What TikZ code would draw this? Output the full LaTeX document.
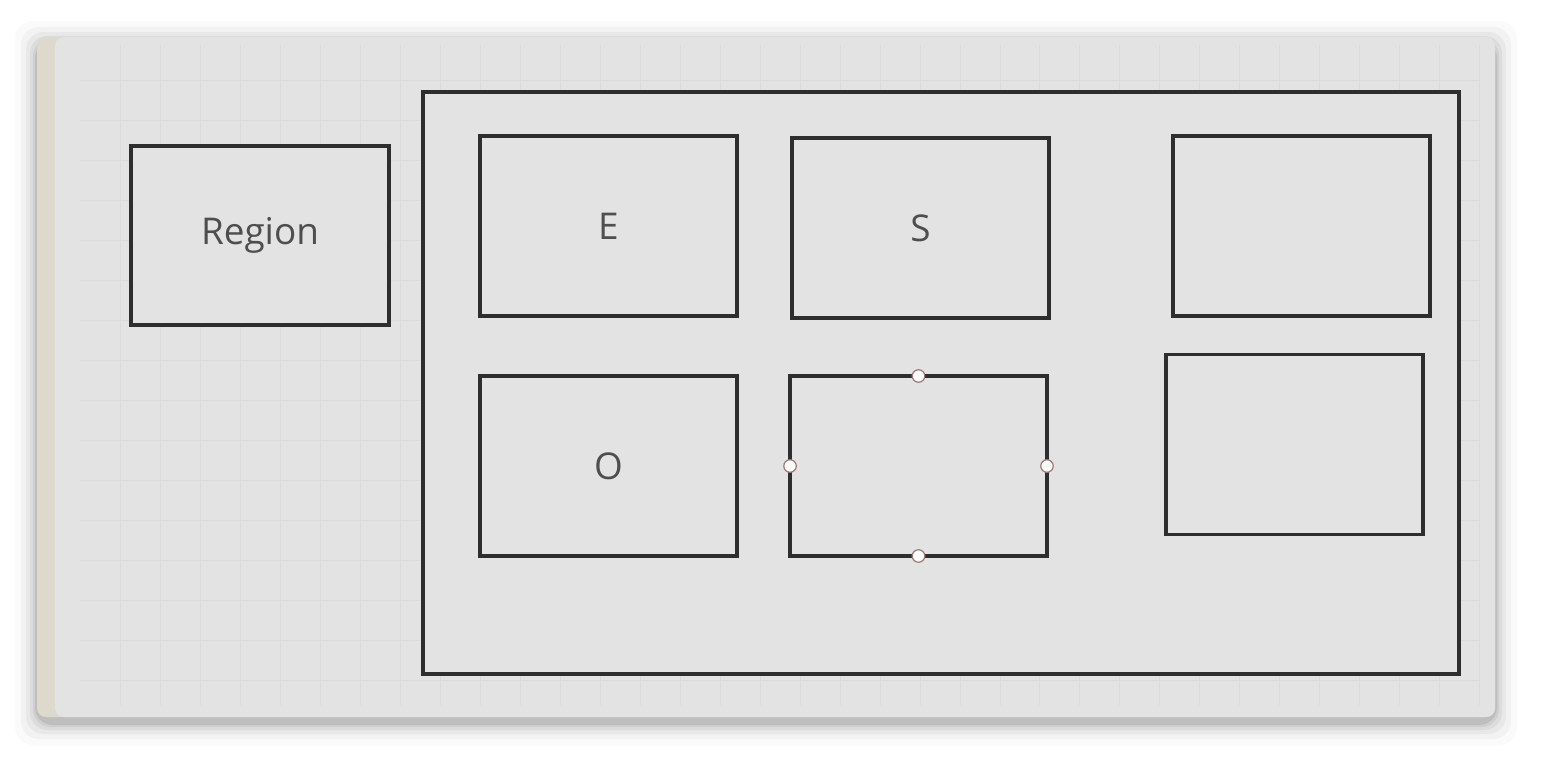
\documentclass[tikz,border=0pt]{standalone}
\usepackage{fontspec}
\setmainfont{Open Sans}
\usepackage{tikz}
\usetikzlibrary{positioning}

\definecolor{panelgray}{HTML}{E3E3E3}
\definecolor{gridgray}{HTML}{DBDBDB}
\definecolor{boxline}{HTML}{2E2E2E}
\definecolor{labelgray}{HTML}{4E4E4E}
\definecolor{edgebeige}{HTML}{DDD9CD}
\definecolor{handlered}{HTML}{A07878}

\tikzset{
  shapebox/.style={draw=boxline, line width=1.9pt, fill=panelgray,
    minimum width=5.14cm, minimum height=3.6cm, inner sep=0pt, outer sep=0pt,
    text=labelgray, font=\fontsize{21}{24}\selectfont},
  handle/.style={circle, draw=handlered, fill=white, line width=0.7pt,
    minimum size=0.25cm, inner sep=0pt}
}

\begin{document}
\begin{tikzpicture}[x=0.02cm, y=-0.02cm]
\useasboundingbox (0,0) rectangle (1546,760);

% --- Canvas with soft shadow ---
\fill[white] (0,0) rectangle (1546,760);
\foreach \s/\o in {22/2, 16/3, 11/4, 7/5, 4/6, 2/8}
  \fill[black, opacity=0.0\o, rounded corners=10pt]
    (37-\s,37-\s+6) rectangle (1495+\s,717+\s+6);
\fill[edgebeige, rounded corners=5pt] (37,37) rectangle (1495,717);
\fill[panelgray, rounded corners=5pt] (55,37) rectangle (1495,717);

% --- Faint grid ---
\draw[gridgray, line width=0.35pt, step=0.8cm] (80,45) grid (1480,705);

% --- Shapes ---
\node[shapebox, minimum width=5.16cm, minimum height=3.58cm] (region) at (260,235.5) {Region};
\node[shapebox, minimum width=20.72cm, minimum height=11.64cm] (page) at (941,383) {};

\node[shapebox] (boxE) at (608.5,226) {E};
\node[shapebox] (boxS) at (920.5,228) {S};
\node[shapebox] (boxTR) at (1301.5,226) {};
\node[shapebox] (boxO) at (608.5,466) {O};
\node[shapebox] (boxSel) at (918.5,466) {};
\node[shapebox] (boxBR) at (1294.5,444.5) {};

% --- Selection handles ---
\foreach \a in {north, south, east, west}
  \node[handle] (h-\a) at (boxSel.\a) {};
\end{tikzpicture}
\end{document}
